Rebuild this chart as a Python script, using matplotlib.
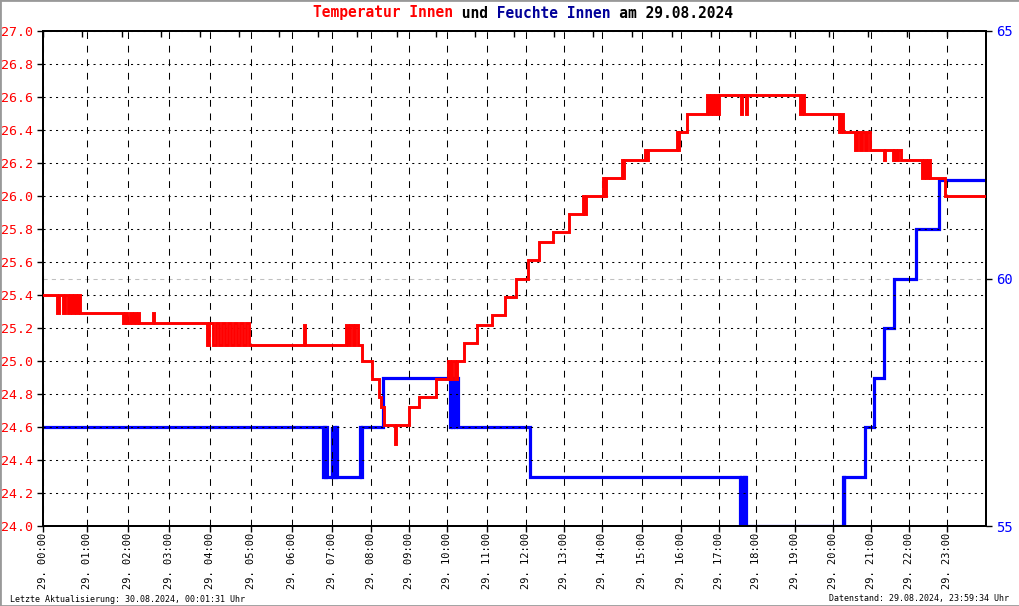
#!/usr/bin/env python3
"""Temperatur / Feuchte Innen, 29.08.2024 - step plot with two y axes."""
import numpy as np
import matplotlib
matplotlib.use('Agg')
import matplotlib.pyplot as plt
import matplotlib.patches as mpatches

plt.rcParams['font.family'] = 'DejaVu Sans Mono'

W, H = 1020, 606

# Temperatur Innen (deg C), value holds from the given time on
temp_time = [
    "00:00", "00:19", "00:22", "00:27", "00:30", "00:34", "00:37", "00:40", "00:42", "00:45", "00:48", "00:51",
    "01:53", "01:56", "01:59", "02:03", "02:06", "02:09", "02:12", "02:15", "02:16", "02:36", "02:38",
    "03:55", "03:58", "04:04", "04:08", "04:13", "04:17", "04:22", "04:26", "04:30", "04:35", "04:39",
    "04:44", "04:48", "04:53", "04:57",
    "06:18", "06:20",
    "07:22", "07:25", "07:28", "07:33", "07:36", "07:40", "07:47",
    "08:02", "08:13", "08:16", "08:21", "08:38", "08:40", "08:59",
    "09:15", "09:42",
    "10:01", "10:04", "10:07", "10:12", "10:15", "10:25", "10:45",
    "11:08", "11:28", "11:45",
    "12:04", "12:21", "12:42",
    "13:07", "13:29", "13:31", "13:34",
    "14:01", "14:03", "14:06", "14:30", "14:31", "14:33",
    "15:05", "15:07", "15:09", "15:54", "15:56", "15:58",
    "16:10", "16:42", "16:45", "16:48", "16:51", "16:55", "16:58",
    "17:01", "17:36", "17:37", "17:44", "17:45",
    "19:08", "19:11", "19:14",
    "20:09", "20:13", "20:16", "20:35", "20:38", "20:43", "20:46", "20:50", "20:54", "20:58",
    "21:20", "21:22", "21:35", "21:37", "21:39", "21:43", "21:47",
    "22:20", "22:24", "22:27", "22:30", "22:33", "22:57", "23:59",
]
temp_value = [
    25.40, 25.29, 25.40, 25.29, 25.40, 25.29, 25.40, 25.29, 25.40, 25.29, 25.40, 25.29,
    25.23, 25.29, 25.23, 25.29, 25.23, 25.29, 25.23, 25.29, 25.23, 25.29, 25.23,
    25.10, 25.23, 25.10, 25.23, 25.10, 25.23, 25.10, 25.23, 25.10, 25.23, 25.10,
    25.23, 25.10, 25.23, 25.10,
    25.22, 25.10,
    25.22, 25.10, 25.22, 25.10, 25.22, 25.10, 25.00,
    24.89, 24.78, 24.72, 24.61, 24.50, 24.61, 24.72,
    24.78, 24.89,
    25.00, 24.89, 25.00, 24.89, 25.00, 25.11, 25.22,
    25.28, 25.39, 25.50,
    25.61, 25.72, 25.78,
    25.89, 26.00, 25.89, 26.00,
    26.11, 26.00, 26.11, 26.22, 26.11, 26.22,
    26.28, 26.22, 26.28, 26.39, 26.28, 26.39,
    26.50, 26.61, 26.50, 26.61, 26.50, 26.61, 26.50,
    26.61, 26.50, 26.61, 26.50, 26.61,
    26.50, 26.61, 26.50,
    26.39, 26.50, 26.39, 26.28, 26.39, 26.28, 26.39, 26.28, 26.39, 26.28,
    26.22, 26.28, 26.22, 26.28, 26.22, 26.28, 26.22,
    26.11, 26.22, 26.11, 26.22, 26.11, 26.00, 26.00,
]

# Feuchte Innen (%)
hum_time = [
    "00:00", "06:47", "06:49", "06:50", "06:51", "06:53", "07:00", "07:01", "07:03", "07:05", "07:07", "07:08",
    "07:43", "07:45", "07:47", "08:19", "10:04", "10:05", "10:07", "10:09", "10:11", "10:13", "10:16",
    "12:07", "17:35", "17:36", "17:38", "17:40", "17:42", "17:43", "17:44",
    "20:16", "20:17", "20:18", "20:50", "21:05", "21:20", "21:36", "22:11", "22:47", "23:59",
]
hum_value = [
    57, 56, 57, 56, 57, 56, 57, 56, 57, 56, 57, 56,
    57, 56, 57, 58, 57, 58, 57, 58, 57, 58, 57,
    56, 55, 56, 55, 56, 55, 56, 55,
    56, 55, 56, 57, 58, 59, 60, 61, 62, 62,
]

hour_ticks = list(range(24))
hour_labels = [f'29. {h:02d}:00' for h in hour_ticks]

# the source plots samples by index, so the hours are not evenly spaced:
# horizontal pixel of each full hour 0..24
HOUR_PX = [43, 86.7, 127.7, 169.3, 210.3, 251, 291.7, 331.7, 370.7, 409.3, 447.3, 486.7,
           525.7, 564.3, 602.3, 641.7, 680.7, 718.5, 756, 795, 833, 871, 909, 947, 986]
HOURS = np.arange(25)


def fwd(h):
    return np.interp(h, HOURS, HOUR_PX)


def inv(p):
    return np.interp(p, HOUR_PX, HOURS)


def to_hours(stamps):
    return np.array([int(s[:2]) + int(s[3:]) / 60 for s in stamps])


def main():
    fig = plt.figure(figsize=(W / 100, H / 100), dpi=100)
    ax = fig.add_axes([43 / W, 80 / H, 943 / W, 495 / H])
    ax2 = ax.twinx()
    ax.set_zorder(ax2.get_zorder() + 1)
    ax.patch.set_visible(False)

    ax.set_xscale('function', functions=(fwd, inv))
    ax.set_xlim(0, 24)
    ax.set_ylim(24.0, 27.0)
    ax2.set_ylim(55, 65)

    # humidity below the grid, temperature above it
    ax2.step(to_hours(hum_time), hum_value, where='post', color='#0000ff', lw=2.3, solid_joinstyle='miter')
    ax2.axhline(60, color='#c0c0c0', lw=0.75, ls=(0, (4, 4)), zorder=0)
    ax.step(to_hours(temp_time), temp_value, where='post', color='#ff0000', lw=2.1, zorder=3,
            solid_joinstyle='miter')

    ax.set_yticks(np.arange(24.0, 27.01, 0.2))
    ax.set_yticklabels([f'{v:.1f}' for v in np.arange(24.0, 27.01, 0.2)])
    ax.set_xticks(hour_ticks)
    ax.set_xticklabels(hour_labels, rotation=90, ha='center', va='top')
    ax.xaxis.set_minor_locator(matplotlib.ticker.NullLocator())
    ax2.set_yticks([55, 60, 65])

    ax.grid(axis='x', color='black', lw=0.75, ls=(0, (6.5, 6.5)))
    ax.grid(axis='y', color='black', lw=0.75, ls=(0, (2, 4)))

    ax.tick_params(axis='y', direction='out', length=4, width=1, labelsize=9.5,
                   labelcolor='#ff0000', pad=3.5)
    ax.tick_params(axis='x', direction='out', length=4, width=1, labelsize=7.5, pad=1)
    ax2.tick_params(axis='y', direction='out', length=4, width=1, labelsize=10,
                    labelcolor='#0000ff', pad=3)

    top = ax.secondary_xaxis('top')
    top.set_xticks(hour_ticks)
    top.tick_params(direction='in', length=4, width=1, labeltop=False)

    for a in (ax, ax2):
        for s in a.spines.values():
            s.set_linewidth(1.4)
    top.spines['top'].set_linewidth(1.4)

    # title in pieces; monospace so padding with spaces keeps the alignment
    parts = [('Temperatur Innen', '#ff0000'), (' und ', 'black'),
             ('Feuchte Innen', '#000099'), (' am 29.08.2024', 'black')]
    full = ''.join(p for p, _ in parts)
    pos = 0
    for text, col in parts:
        s = ' ' * pos + text + ' ' * (len(full) - pos - len(text))
        fig.text(313 / W, 1 - 13 / H, s, color=col, fontsize=10.5, fontweight='bold',
                 ha='left', va='center')
        pos += len(text)

    fig.text(10 / W, 1 - 599 / H, 'Letzte Aktualisierung: 30.08.2024, 00:01:31 Uhr',
             fontsize=6, ha='left', va='center')
    fig.text(1009 / W, 1 - 599 / H, 'Datenstand: 29.08.2024, 23:59:34 Uhr',
             fontsize=6, ha='right', va='center')

    fig.patches.append(mpatches.Rectangle((0, 0), 1, 1, transform=fig.transFigure, fill=False,
                                          edgecolor='#999999', lw=2))

    fig.savefig('out.png', dpi=100)
    plt.close(fig)


if __name__ == '__main__':
    main()
